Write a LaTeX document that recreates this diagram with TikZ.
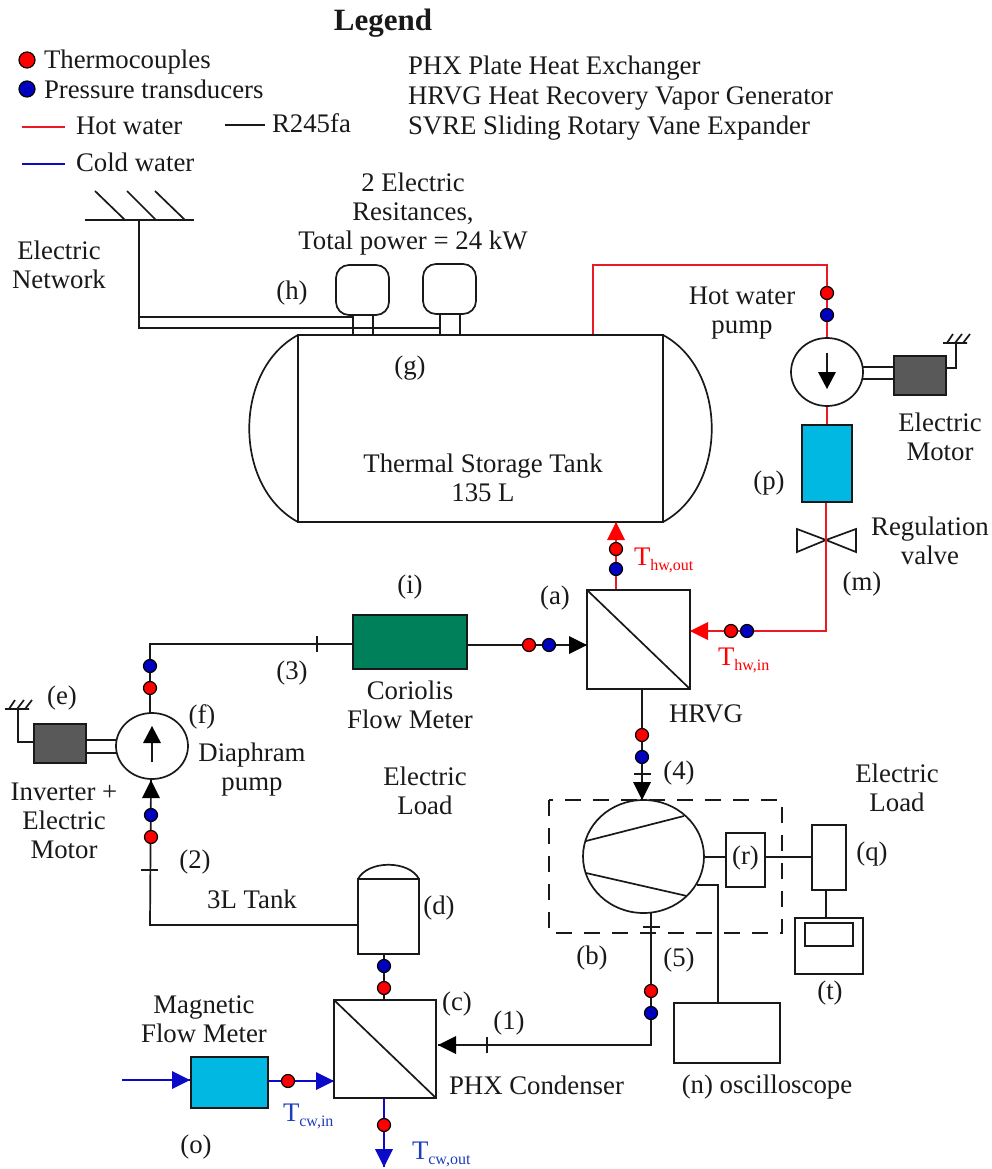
\documentclass[tikz,border=0pt]{standalone}
\usepackage{fontspec}
\setmainfont{Liberation Serif}
\usetikzlibrary{arrows.meta,shapes.geometric,backgrounds}
\definecolor{hotred}{RGB}{235,25,35}
\definecolor{dotred}{RGB}{255,0,0}
\definecolor{coldblue}{RGB}{10,10,200}
\definecolor{dotblue}{RGB}{0,0,190}
\definecolor{motorgray}{RGB}{89,89,89}
\definecolor{metercyan}{RGB}{0,184,226}
\definecolor{metergreen}{RGB}{0,128,90}
\definecolor{labelblue}{RGB}{30,60,190}
\tikzset{
  lw/.style={line width=1.7pt},
  wire/.style={lw,draw=black!90,line join=miter},
  hot/.style={lw,draw=hotred},
  cold/.style={lw,draw=coldblue},
  shapebox/.style={rectangle,draw=black!90,lw,inner sep=0pt,outer sep=0pt,fill=white},
  tc/.style={circle,draw=black,line width=1.2pt,fill=dotred,minimum size=13pt,inner sep=0pt,outer sep=0pt},
  pt/.style={circle,draw=black,line width=1.2pt,fill=dotblue,minimum size=13pt,inner sep=0pt,outer sep=0pt},
  bigdot/.style={minimum size=16pt},
  round shape/.style={ellipse,draw=black!90,lw,fill=white,inner sep=0pt,outer sep=0pt},
  lab/.style={inner sep=0pt,outer sep=0pt,align=center,font=\fontsize{26.8}{29}\selectfont,text=black!90,yshift=-1pt},
  lableft/.style={lab,anchor=west,text height=19pt,text depth=6pt},
  labone/.style={lab,text height=19pt,text depth=6pt}
}
\newcommand{\bxnode}[6]{\node[shapebox,#6,minimum width={(#4-#2)*1pt},minimum height={(#5-#3)*1pt}] (#1) at ({(#2+#4)/2},{(#3+#5)/2}) {};}
\newcommand{\subT}[1]{T\raisebox{-5pt}{\fontsize{16}{16}\selectfont #1}}
\newcommand{\groundR}[1]{\draw[wire,shift={(#1)}] (-13,0) -- (11,0) (-9,0) -- (-3,-9) (-1,0) -- (6,-9) (7,0) -- (14,-9);}
\begin{document}
\begin{tikzpicture}[x=1pt,y=-1pt]
\useasboundingbox (0,0) rectangle (992,1169);
% ---- main shapes
\bxnode{tank}{298}{335}{663}{522}{}
\bxnode{neckA}{353}{315}{373}{335}{}
\bxnode{neckB}{440}{314}{460}{335}{}
\bxnode{resA}{336}{265}{389}{315}{rounded corners=13pt}
\bxnode{resB}{423}{264}{476}{314}{rounded corners=13pt}
\bxnode{meterP}{802}{425}{852}{502}{fill=metercyan}
\bxnode{coriolis}{353}{615}{467}{669}{fill=metergreen}
\bxnode{hrvg}{587}{590}{690}{689}{}
\bxnode{condenser}{334}{1000}{436}{1098}{}
\bxnode{tankD}{358}{879}{419}{954}{}
\bxnode{meterO}{191}{1057}{268}{1108}{fill=metercyan}
\bxnode{motorR}{894}{356}{946}{395}{fill=motorgray}
\bxnode{motorL}{34}{724}{86}{763}{fill=motorgray}
\bxnode{boxR}{726}{833}{765}{887}{}
\bxnode{boxQ}{812}{825}{846}{890}{}
\bxnode{boxT}{795}{918}{863}{974}{}
\bxnode{boxTin}{805}{923}{853}{946}{}
\bxnode{scope}{674}{1003}{780}{1063}{}
\node[round shape,minimum width=72pt,minimum height=68pt] (pumpH) at (827,372) {};
\node[round shape,minimum width=72pt,minimum height=66pt] (pumpF) at (152,746) {};
\node[round shape,minimum width=121pt,minimum height=113pt] (svre) at (643.5,856.5) {};
% ---- sensors
\node[tc] (tc1) at (827,293) {}; \node[pt] (pt1) at (827,315) {};
\node[tc] (tc2) at (616,549) {}; \node[pt] (pt2) at (616,569) {};
\node[tc] (tc3) at (731,631) {}; \node[pt] (pt3) at (747,631) {};
\node[tc] (tc4) at (529,645) {}; \node[pt] (pt4) at (549,645) {};
\node[tc] (tc5) at (150,688) {}; \node[pt] (pt5) at (150,666) {};
\node[tc] (tc6) at (151,837) {}; \node[pt] (pt6) at (151,815) {};
\node[tc] (tc7) at (642,735) {}; \node[pt] (pt7) at (642,757) {};
\node[tc] (tc8) at (651,991) {}; \node[pt] (pt8) at (651,1013) {};
\node[tc] (tc9) at (384,988) {}; \node[pt] (pt9) at (384,966) {};
\node[tc] (tc10) at (288,1081) {};
\node[tc] (tc11) at (384,1125) {};
\node[tc,bigdot] (legtc) at (27,60) {}; \node[pt,bigdot] (legpt) at (27,89) {};
% ---- coordinates
\coordinate (hotA) at (593,335); \coordinate (hotB) at (593,265); \coordinate (hotC) at (827,265);
\coordinate (hotD) at (827,338); \coordinate (hotE) at (827,425);
\coordinate (hotF) at (826,502); \coordinate (hotG) at (826,631); \coordinate (hotH) at (690,631);
\coordinate (hotI) at (616,590); \coordinate (hotJ) at (616,522);
\coordinate (lineA) at (467,645); \coordinate (lineB) at (587,645);
\coordinate (lineC) at (353,644); \coordinate (lineD) at (150,644); \coordinate (lineE) at (150,713);
\coordinate (lineF) at (151,780); \coordinate (lineG) at (150,925); \coordinate (lineH) at (358,925);
\coordinate (lineI) at (384,954); \coordinate (lineJ) at (384,1000);
\coordinate (lineK) at (438,1045); \coordinate (lineL) at (651,1045); \coordinate (lineM) at (651,913);
\coordinate (lineN) at (642,689); \coordinate (lineO) at (642,800);
\coordinate (sigA) at (704,857); \coordinate (sigB) at (726,857); \coordinate (sigC) at (765,857); \coordinate (sigD) at (812,857);
\coordinate (sigE) at (826,890); \coordinate (sigF) at (826,918);
\coordinate (oscA) at (697,885); \coordinate (oscB) at (718,885); \coordinate (oscC) at (718,1003);
\coordinate (coldA) at (122,1080); \coordinate (coldB) at (190,1080); \coordinate (coldC) at (268,1081); \coordinate (coldD) at (334,1081);
\coordinate (coldE) at (384,1098); \coordinate (coldF) at (384,1167);
\coordinate (netA) at (85,220); \coordinate (netB) at (194,220); \coordinate (netC) at (139,220);
\coordinate (netD) at (139,328); \coordinate (netE) at (139,317); \coordinate (netF) at (353,317); \coordinate (netG) at (440,328);
\coordinate (shaftRa) at (863,367); \coordinate (shaftRb) at (894,367); \coordinate (shaftRc) at (862,379); \coordinate (shaftRd) at (894,379);
\coordinate (shaftLa) at (86,740); \coordinate (shaftLb) at (116,740); \coordinate (shaftLc) at (86,753); \coordinate (shaftLd) at (116,753);
\coordinate (gndRa) at (946,368); \coordinate (gndRb) at (956,368); \coordinate (gndRc) at (956,343);
\coordinate (gndLa) at (34,742); \coordinate (gndLb) at (18,742); \coordinate (gndLc) at (18,709);
\coordinate (tick1) at (317,644); \coordinate (tick2) at (150,870); \coordinate (tick3) at (487,1045);
\coordinate (tick4) at (642,774); \coordinate (tick5) at (651,927);
\coordinate (legHa) at (22,127); \coordinate (legHb) at (65,127);
\coordinate (legRa) at (225,125); \coordinate (legRb) at (265,125);
\coordinate (legCa) at (22,164); \coordinate (legCb) at (65,164);
% ---- pipes behind everything
\begin{scope}[on background layer]
 \draw[hot] (hotA) -- (hotB) -- (hotC) -- (hotD);
 \draw[hot] (hotD |- pumpH.south) -- (hotE);
 \draw[hot] (hotF) -- (hotG) -- (hotH);
 \draw[hot] (hotI) -- (hotJ);
 \draw[wire] (lineA) -- (lineB);
 \draw[wire] (lineC) -- (lineD) -- (lineE);
 \draw[wire] (lineF) -- (lineG) -- (lineH);
 \draw[wire] (lineI) -- (lineJ);
 \draw[wire] (lineK) -- (lineL) -- (lineM);
 \draw[wire] (lineN) -- (lineO);
 \draw[wire] (sigA) -- (sigB) (sigC) -- (sigD) (sigE) -- (sigF);
 \draw[wire] (oscA) -- (oscB) -- (oscC);
 \draw[cold] (coldA) -- (coldB);
 \draw[cold] (coldC) -- (coldD);
 \draw[cold] (coldE) -- (coldF);
\end{scope}
% arrowheads on pipes
\path[fill=red] (hotH) -- ++(18,-9) -- ++(0,18) -- cycle;
\path[fill=red] (hotJ) -- ++(-9,18) -- ++(18,0) -- cycle;
\path[fill=black] (lineB) -- ++(-18,-9) -- ++(0,18) -- cycle;
\path[fill=black] (lineF) -- ++(-9,18) -- ++(18,0) -- cycle;
\path[fill=black] (lineK) -- ++(18,-9) -- ++(0,18) -- cycle;
\path[fill=black] (lineO) -- ++(-9,-18) -- ++(18,0) -- cycle;
\path[fill=coldblue] (coldB) -- ++(-18,-9) -- ++(0,18) -- cycle;
\path[fill=coldblue] (coldD) -- ++(-18,-9) -- ++(0,18) -- cycle;
\path[fill=coldblue] (coldF) -- ++(-9,-18) -- ++(18,0) -- cycle;
% ticks
\draw[wire] ([yshift=-8pt]tick1) -- ([yshift=8pt]tick1);
\draw[wire] ([xshift=-9pt]tick2) -- ([xshift=8pt]tick2);
\draw[wire] ([yshift=-8pt]tick3) -- ([yshift=8pt]tick3);
\draw[wire] ([xshift=-8pt]tick4) -- ([xshift=9pt]tick4);
\draw[wire] ([xshift=-8pt]tick5) -- ([xshift=9pt]tick5);
% tank caps
\draw[wire] (tank.north west) .. controls (233,370) and (233,487) .. (tank.south west);
\draw[wire] (tank.north east) .. controls (728,370) and (728,487) .. (tank.south east);
% heat exchanger diagonals
\draw[wire] (hrvg.north west) -- (hrvg.south east);
\draw[wire] (condenser.north west) -- (condenser.south east);
% 3L tank dome
\draw[wire] (tankD.north west) .. controls (368,860) and (409,860) .. (tankD.north east);
% pump arrows
\draw[wire] ([yshift=19pt]pumpH.center) -- ([yshift=-5pt]pumpH.center);
\path[fill=black] ([yshift=-17pt]pumpH.center) -- ([xshift=-9pt,yshift=0pt]pumpH.center) -- ([xshift=9pt]pumpH.center) -- cycle;
\draw[wire] ([yshift=-16pt]pumpF.center) -- ([yshift=5pt]pumpF.center);
\path[fill=black] ([yshift=20pt]pumpF.center) -- ([xshift=-9pt,yshift=3pt]pumpF.center) -- ([xshift=9pt,yshift=3pt]pumpF.center) -- cycle;
% expander vanes
\draw[wire] (586,841) -- (684,816);
\draw[wire] (586,873) -- (687,896);
% dashed SVRE boundary
\draw[lw,draw=black!90,dash pattern=on 16pt off 12pt] (549,800) rectangle (782,933);
% valve
\coordinate (valveC) at (826,540);
\draw[wire] (valveC) -- (797,529) -- (797,552) -- cycle;
\draw[wire] (valveC) -- (856,529) -- (856,552) -- cycle;
\draw[hot] (826,530) -- (826,550);
% electric network
\draw[wire] (netA) -- (netB);
\draw[wire] (95,191) -- (125,220) (127,191) -- (156,220) (155,191) -- (185,220);
\draw[wire] (netC) -- (netD) -- (netG);
\draw[wire] (netE) -- (netF);
% shafts and motor grounds
\draw[wire] (shaftRa) -- (shaftRb) (shaftRc) -- (shaftRd);
\draw[wire] (shaftLa) -- (shaftLb) (shaftLc) -- (shaftLd);
\draw[wire] (gndRa) -- (gndRb) -- (gndRc);
\draw[wire] (gndLa) -- (gndLb) -- (gndLc);
\groundR{gndRc}
\groundR{gndLc}
% legend
\draw[hot] (legHa) -- (legHb);
\draw[wire] (legRa) -- (legRb);
\draw[cold] (legCa) -- (legCb);
\node[lab,font=\fontsize{31}{33}\selectfont\bfseries] (legendTitle) at (383,22) {Legend};
\node[lableft] (l1) at (44,61) {Thermocouples};
\node[lableft] (l2) at (44,91) {Pressure transducers};
\node[lableft] (l3) at (76,127) {Hot water};
\node[lableft] (l4) at (272,125) {R245fa};
\node[lableft] (l5) at (76,164) {Cold water};
\node[lableft] (l6) at (408,67) {PHX Plate Heat Exchanger};
\node[lableft] (l7) at (408,97) {HRVG Heat Recovery Vapor Generator};
\node[lableft] (l8) at (408,127) {SVRE Sliding Rotary Vane Expander};
% labels
\node[lab] (t1) at (413,213) {2 Electric\\Resitances,\\Total power = 24 kW};
\node[lab] (t2) at (59,264) {Electric\\Network};
\node[labone] (t3) at (292,292) {(h)};
\node[labone] (t4) at (410,367) {(g)};
\node[lab] (t5) at (742,312) {Hot water\\pump};
\node[lab] (t6) at (940,436) {Electric\\Motor};
\node[labone] (t7) at (769,482) {(p)};
\node[lab] (t8) at (930,540) {Regulation\\valve};
\node[labone] (t9) at (862,583) {(m)};
\node[lab] (t10) at (483,477) {Thermal Storage Tank\\135 L};
\node[labone] (t11) at (410,586) {(i)};
\node[labone] (t12) at (555,597) {(a)};
\node[labone] (t13) at (706,715) {HRVG};
\node[labone] (t14) at (292,672) {(3)};
\node[lab] (t15) at (410,704) {Coriolis\\Flow Meter};
\node[labone] (t16) at (62,697) {(e)};
\node[labone] (t17) at (202,716) {(f)};
\node[lab] (t18) at (252,769) {Diaphram\\pump};
\node[lab] (t19) at (425,790) {Electric\\Load};
\node[lab] (t20) at (64,820) {Inverter +\\Electric\\Motor};
\node[labone] (t21) at (195,861) {(2)};
\node[labone] (t22) at (252,901) {3L Tank};
\node[labone] (t23) at (439,907) {(d)};
\node[labone] (t24) at (679,772) {(4)};
\node[lab] (t25) at (897,787) {Electric\\Load};
\node[labone] (t26) at (872,853) {(q)};
\node[labone] (t27) at (592,957) {(b)};
\node[labone] (t28) at (679,959) {(5)};
\node[labone] (t29) at (830,992) {(t)};
\node[labone] (t30) at (457,1003) {(c)};
\node[labone] (t31) at (509,1022) {(1)};
\node[lab] (t32) at (204,1018) {Magnetic\\Flow Meter};
\node[lableft] (t33) at (449,1087) {PHX Condenser};
\node[labone] (t34) at (767,1086) {(n) oscilloscope};
\node[labone] (t35) at (196,1146) {(o)};
\node[labone] (t36) at (745.5,857) {(r)};
\node[lableft,text=red] (t37) at (634,558) {\subT{hw,out}};
\node[lableft,text=red] (t38) at (718,658) {\subT{hw,in}};
\node[lableft,text=labelblue] (t39) at (283,1114) {\subT{cw,in}};
\node[lableft,text=labelblue] (t40) at (412,1152) {\subT{cw,out}};
\end{tikzpicture}
\end{document}
